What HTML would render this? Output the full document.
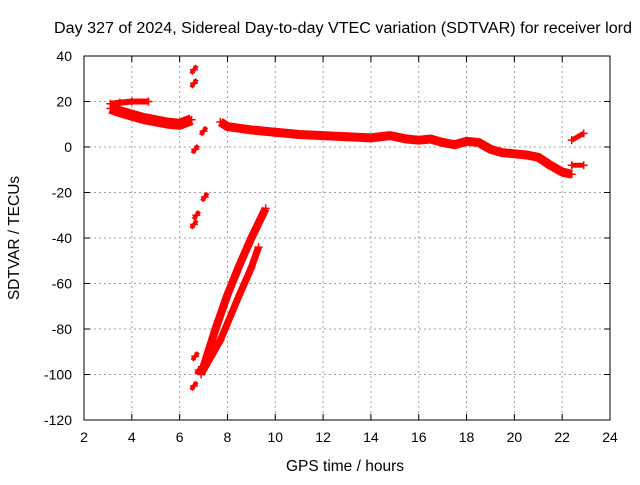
<!DOCTYPE html>
<html><head><meta charset="utf-8"><style>
body{margin:0;background:#fff}
svg text{font-family:"Liberation Sans",sans-serif;font-size:14px;fill:#000}
svg text.big{font-size:15.5px}
</style></head><body>
<svg id="c" width="640" height="480" xmlns="http://www.w3.org/2000/svg">
<text class="big" x="343" y="33" text-anchor="middle" textLength="578" lengthAdjust="spacingAndGlyphs">Day 327 of 2024, Sidereal Day-to-day VTEC variation (SDTVAR) for receiver lord</text>
<text class="big" x="345" y="471" text-anchor="middle">GPS time / hours</text>
<text class="big" transform="translate(19,238) rotate(-90)" text-anchor="middle">SDTVAR / TECUs</text>
<g id="grid"></g><g id="marks"></g><g id="axes"></g>
</svg>
<script>
const xTicks=[2,4,6,8,10,12,14,16,18,20,22,24];
const yTicks=[40,20,0,-20,-40,-60,-80,-100,-120];
const bandTopH=[3.1,3.5,4.0,4.7];
const bandTopV=[19,19.5,20,20];
const bandAH=[3.1,3.5,4,4.5,5,5.5,6,6.5];
const bandAV=[17,15.5,14,12.5,11.5,10.5,10,12];
const bandBH=[7.7,8,9,10,11,12,13,14,14.8,15.5,16,16.5,17,17.5,18,18.5,19,19.5,20,20.5,21,21.5,22,22.4];
const bandBV=[11,9,7.5,6.5,5.5,5,4.5,4,5,3.5,3,3.5,2,1,2.5,2,-1,-2.5,-3,-3.5,-4.5,-8,-11,-12];
const endAH=[22.4,22.9];const endAV=[3,6];
const endBH=[22.4,22.9];const endBV=[-8,-8];
const steep1H=[6.9,7.5,8,8.5,9,9.6];const steep1V=[-100,-80,-65,-52,-40,-27];
const steep2H=[7.0,7.7,8.5,9,9.3];const steep2V=[-98,-85,-65,-53,-44];
const ptsH=[6.6,6.6,7.0,6.65,7.05,6.7,6.6,6.65,6.6,6.8];
const ptsV=[34,28,7,-1,-22,-30,-34,-92,-105,-98];
const X=h=>84+(h-2)*(526/22), Y=v=>56+(40-v)*(364/160);
const NS="http://www.w3.org/2000/svg";
function mk(t,a,p){const e=document.createElementNS(NS,t);for(const k in a)e.setAttribute(k,a[k]);p.appendChild(e);return e;}
const g=document.getElementById('grid'),m=document.getElementById('marks'),ax=document.getElementById('axes');
xTicks.forEach((t,i)=>{if(i>0&&i<xTicks.length-1){const l=mk('line',{x1:X(t),x2:X(t),y1:56,y2:420,stroke:'#a0a0a0','stroke-dasharray':'2,3'},g);

}
const tx=mk('text',{x:X(t),y:442,'text-anchor':'middle'},ax);tx.textContent=t;


mk('line',{x1:X(t),x2:X(t),y1:420,y2:414,stroke:'#000'},ax);mk('line',{x1:X(t),x2:X(t),y1:56,y2:62,stroke:'#000'},ax);});
yTicks.forEach((t,i)=>{if(i>0&&i<yTicks.length-1){const l=mk('line',{x1:84,x2:610,y1:Y(t),y2:Y(t),stroke:'#a0a0a0','stroke-dasharray':'2,3'},g);

}
const tx=mk('text',{x:72,y:Y(t)+5,'text-anchor':'end'},ax);tx.textContent=t;


mk('line',{x1:84,x2:90,y1:Y(t),y2:Y(t),stroke:'#000'},ax);mk('line',{x1:604,x2:610,y1:Y(t),y2:Y(t),stroke:'#000'},ax);});
const fr=mk('rect',{x:84,y:56,width:526,height:364,fill:'none',stroke:'#000'},ax);


function band(H,V,w,name){const p=mk('polyline',{points:H.map((h,i)=>X(h)+','+Y(V[i])).join(' '),fill:'none',stroke:'#f00','stroke-width':w,'stroke-linejoin':'round','stroke-linecap':'butt'},m);


H.forEach((h,i)=>plus(h,V[i]));}
function plus(h,v){const x=X(h),y=Y(v);const p=mk('path',{d:`M${x-4},${y}h8M${x},${y-4}v8`,stroke:'#f00','stroke-width':1.5},m);

}
band(bandTopH,bandTopV,6,'series-band-top');
band(bandAH,bandAV,11,'series-band-morning');
band(bandBH,bandBV,9,'series-band-main');
band(endAH,endAV,5,'series-end-upper');
band(endBH,endBV,5,'series-end-lower');
band(steep1H,steep1V,8,'series-steep-1');
band(steep2H,steep2V,7,'series-steep-2');
ptsH.forEach((h,i)=>{const x=X(h),y=Y(ptsV[i]);const c=mk('path',{d:`M${x-3},${y+4}L${x+3},${y-4}`,stroke:'#f00','stroke-width':4},m);

plus(h,ptsV[i]);});
</script>
</body></html>
